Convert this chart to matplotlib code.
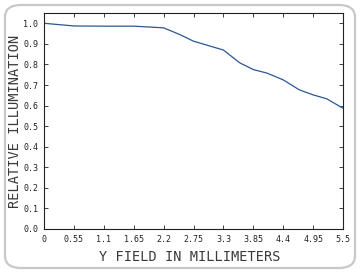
import matplotlib
matplotlib.use("Agg")
import matplotlib.pyplot as plt
from matplotlib.patches import FancyBboxPatch

# field position (mm) and relative illumination
field_mm = [0, 0.55, 1.1, 1.65, 2.2, 2.5, 2.75, 3.3, 3.6, 3.85, 4.1, 4.4, 4.7, 4.95, 5.2, 5.5]
rel_illum = [1.0, 0.987, 0.986, 0.986, 0.978, 0.945, 0.913, 0.870, 0.808, 0.775, 0.758,
             0.725, 0.676, 0.652, 0.633, 0.587]

x_ticks = [0, 0.55, 1.1, 1.65, 2.2, 2.75, 3.3, 3.85, 4.4, 4.95, 5.5]
x_tick_labels = ["0", "0.55", "1.1", "1.65", "2.2", "2.75", "3.3", "3.85", "4.4", "4.95", "5.5"]
y_ticks = [0.0, 0.1, 0.2, 0.3, 0.4, 0.5, 0.6, 0.7, 0.8, 0.9, 1.0]
y_tick_labels = ["{:.1f}".format(v) for v in y_ticks]

plt.rcParams["font.family"] = ["DejaVu Sans Mono"]

fig = plt.figure(figsize=(3.6, 2.73), dpi=100)
fig.patch.set_facecolor("white")

# rounded frame around the whole picture
frame = FancyBboxPatch((5 / 360, 5 / 273), 350 / 360, 263 / 273,
                       boxstyle="round,pad=0,rounding_size=0.045",
                       transform=fig.transFigure, facecolor="none",
                       edgecolor="#c8c8c8", linewidth=1.6, zorder=-1)
fig.patches.append(frame)

ax = fig.add_axes([44 / 360, 44 / 273, 299 / 360, 216 / 273])
ax.plot(field_mm, rel_illum, color="#2c5694", linewidth=0.9)

ax.set_xlim(0, 5.5)
ax.set_ylim(0, 1.05)
ax.set_xticks(x_ticks)
ax.set_xticklabels(x_tick_labels)
ax.set_yticks(y_ticks)
ax.set_yticklabels(y_tick_labels)
ax.tick_params(direction="in", length=3, width=0.6, top=True, right=True,
               labelsize=6, colors="#222222", pad=4)

for sp in ax.spines.values():
    sp.set_linewidth(0.8)
    sp.set_color("#222222")

fig.text(190 / 360, 1 - 257 / 273, "Y FIELD IN MILLIMETERS", fontsize=9.8,
         color="#3a3a3a", ha="center", va="center")
fig.text(15 / 360, 1 - 121 / 273, "RELATIVE ILLUMINATION", fontsize=9.8,
         color="#3a3a3a", ha="center", va="center", rotation=90)

plt.savefig("out.png", dpi=100)
plt.close()
